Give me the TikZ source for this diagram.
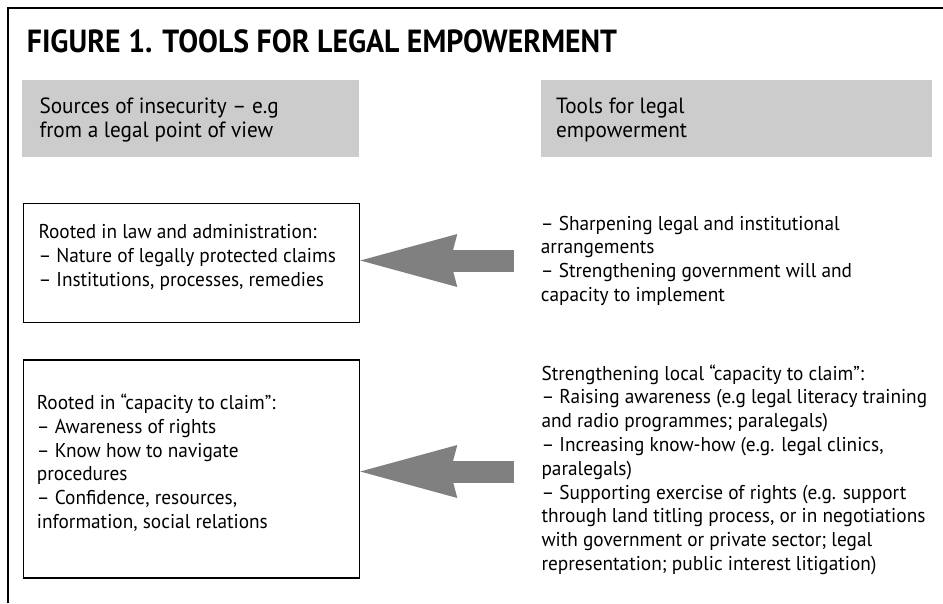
\documentclass[tikz,border=0pt]{standalone}
\usepackage{fontspec}
\usetikzlibrary{arrows.meta}
\setmainfont{PT Sans}
\newfontfamily\titlefont{PT Sans}[FakeStretch=0.93]
\newfontfamily\bodyfont{PT Sans}[FakeStretch=0.965]
\definecolor{headgrey}{HTML}{CCCCCC}
\definecolor{arrowgrey}{HTML}{808080}

\begin{document}
\begin{tikzpicture}[x = 1pt, y = -1pt,
        title/.style = {font = \titlefont\bfseries\fontsize{32}{36}\selectfont, inner sep = 0pt, anchor = base west},
        body/.style = {font = \bodyfont\fontsize{20}{23.8}\selectfont, align = left, inner sep = 0pt, anchor = north west},
        headtext/.style = {body, font = \bodyfont\fontsize{22}{23.6}\selectfont},
        headbox/.style = {fill = headgrey, inner sep = 0pt, anchor = north west},
        srcbox/.style = {draw, line width = 1.3pt, inner sep = 0pt, anchor = north west},
        bigarrow/.style = {arrowgrey, line width = 22pt,
            -{Stealth[length = 97pt, width = 53pt, inset = 7pt, line width' = 0pt]}}]
        \useasboundingbox ( 0, 0 ) rectangle ( 943, 603 );

        % рамка
        \draw [line width = 2pt] ( 8, 603 ) -- ( 8, 7.5 ) -- ( 943, 7.5 );

        % заголовок
        \node [title] (title) at ( 26.7, 52 ) {FIGURE 1. TOOLS FOR LEGAL EMPOWERMENT};

        % серые шапки
        \node [headbox, minimum width = 337.3pt, minimum height = 77pt] (srchead) at ( 21.7, 80 ) {};
        \node [headbox, minimum width = 391pt, minimum height = 77pt] (toolhead) at ( 541, 80 ) {};
        \node [headtext] (srctitle) at ( 39.3, 96.8 ) {\strut Sources of insecurity – e.g\\from a legal point of view};
        \node [headtext] (tooltitle) at ( 556, 96.8 ) {\strut Tools for legal\\empowerment};

        % рамки слева
        \node [srcbox, minimum width = 336.3pt, minimum height = 119pt] (lawbox) at ( 22.7, 203 ) {};
        \node [srcbox, minimum width = 336.3pt, minimum height = 218pt] (claimbox) at ( 22.7, 359.3 ) {};
        \node [body] (lawtext) at ( 38.3, 222 ) {\strut Rooted in law and administration:\\– Nature of legally protected claims\\– Institutions, processes, remedies};
        \node [body] (claimtext) at ( 36.7, 392.6 ) {\strut Rooted in “capacity to claim”:\\– Awareness of rights\\– Know how to navigate\\procedures\\– Confidence, resources,\\information, social relations};

        % инструменты справа
        \node [body] (lawtools) at ( 540.7, 213.3 ) {\strut – Sharpening legal and institutional\\arrangements\\– Strengthening government will and\\capacity to implement};
        \node [body] (claimtools) at ( 541.3, 363.3 ) {\strut Strengthening local “capacity to claim”:\\– Raising awareness (e.g legal literacy training\\and radio programmes; paralegals)\\– Increasing know-how (e.g. legal clinics,\\paralegals)\\– Supporting exercise of rights (e.g. support\\through land titling process, or in negotiations\\with government or private sector; legal\\representation; public interest litigation)};

        % стрелки
        \coordinate (lawstart) at ( 514, 260.5 );
        \coordinate (claimstart) at ( 514, 471.5 );
        \draw [bigarrow] (lawstart) -- (lawstart -| lawbox.east);
        \draw [bigarrow] (claimstart) -- (claimstart -| claimbox.east);
    \end{tikzpicture}
\end{document}
